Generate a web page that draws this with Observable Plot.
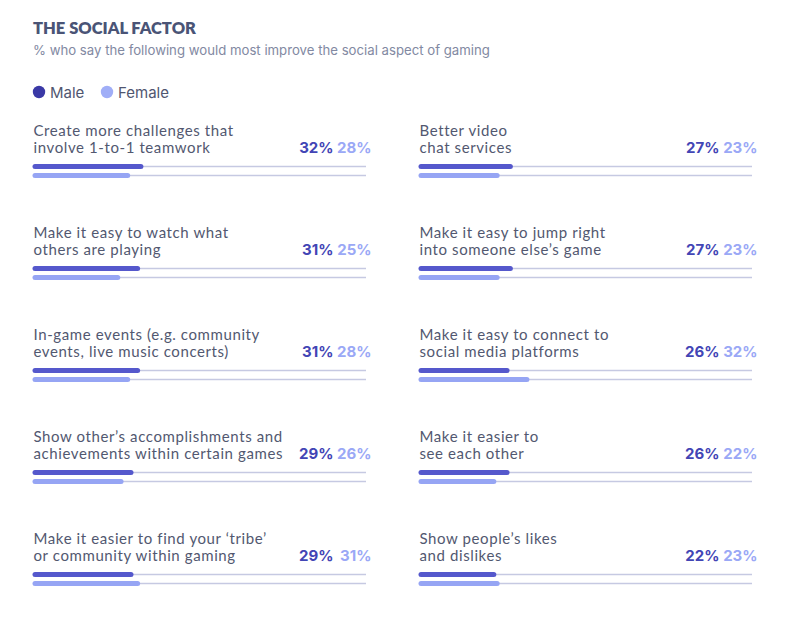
<!DOCTYPE html>
<html><head><meta charset="utf-8">
<script src="https://cdn.jsdelivr.net/npm/d3@7"></script>
<script src="https://cdn.jsdelivr.net/npm/@observablehq/plot@0.6"></script>
<style>
body{margin:0;background:#fff;font-family:Inter,sans-serif;}
svg{display:block;}
</style></head>
<body>
<div id="chart"></div>
<script>
const title = "THE SOCIAL FACTOR";
const subtitle = "% who say the following would most improve the social aspect of gaming";
const seriesNames = ["Male", "Female"];
const labels = [
  "Create more challenges that\ninvolve 1-to-1 teamwork",
  "Make it easy to watch what\nothers are playing",
  "In-game events (e.g. community\nevents, live music concerts)",
  "Show other’s accomplishments and\nachievements within certain games",
  "Make it easier to find your ‘tribe’\nor community within gaming",
  "Better video\nchat services",
  "Make it easy to jump right\ninto someone else’s game",
  "Make it easy to connect to\nsocial media platforms",
  "Make it easier to\nsee each other",
  "Show people’s likes\nand dislikes"
];
const male =   [32, 31, 31, 29, 29, 27, 27, 26, 26, 22];
const female = [28, 25, 28, 26, 31, 23, 23, 32, 22, 23];

const colors = {Male: "#5558cc", Female: "#96a5f4"};
const textColors = {Male: "#4245b5", Female: "#9aa8f6"};
const dotColors = {Male: "#3a39a6", Female: "#a0aef7"};

const panels = labels.map((label, i) => ({label, col: i < 5 ? 0 : 1, row: i % 5, male: male[i], female: female[i]}));
const bars = panels.flatMap(p => seriesNames.map(s => ({col: p.col, row: p.row, series: s, value: s === "Male" ? p.male : p.female})));

const FONT = "Inter, sans-serif";
// header
const root = d3.select("#chart");
const head = root.append("svg").attr("width", 789).attr("height", 110);
head.append("text").attr("x", 33).attr("y", 34.3).text(title)
  .attr("font-family", "Lato, sans-serif").attr("font-weight", 800).attr("font-size", 16.5).attr("fill", "#4a5476");
head.append("text").attr("x", 33).attr("y", 55).text(subtitle)
  .attr("font-family", FONT).attr("font-size", 13.2).attr("fill", "#8289a2");
const leg = head.selectAll("g.leg").data(seriesNames).join("g")
  .attr("transform", (d, i) => `translate(${[39, 107][i]},92)`);
leg.append("circle").attr("r", 6.2).attr("fill", d => dotColors[d]);
leg.append("text").attr("x", 11).attr("y", 5.5).text(d => d)
  .attr("font-family", FONT).attr("font-size", 15).attr("fill", "#505670");

const chart = Plot.plot({
  width: 789,
  height: 486,
  marginTop: 8, marginBottom: 10, marginLeft: 35, marginRight: 36,
  fx: {domain: [0, 1], paddingInner: 55 / 387, paddingOuter: 0, axis: null},
  fy: {domain: [0, 1, 2, 3, 4], paddingInner: 42 / 102, paddingOuter: 0, axis: null},
  x: {domain: [0, 100], axis: null},
  y: {type: "point", domain: seriesNames, padding: 0, insetTop: 48, insetBottom: 3, axis: null},
  style: {fontFamily: FONT, background: "transparent"},
  marks: [
    Plot.ruleY(bars, {fx: "col", fy: "row", y: "series", stroke: "#c6c9e2", strokeWidth: 1.3}),
    Plot.ruleY(bars, {fx: "col", fy: "row", y: "series", x1: 0, x2: "value",
      stroke: d => colors[d.series], strokeWidth: 5, strokeLinecap: "round"}),
    Plot.text(panels, {fx: "col", fy: "row", y: () => "Male", frameAnchor: "left", text: "label",
      textAnchor: "start", lineAnchor: "bottom", dx: -2, dy: -14, fontSize: 15, lineHeight: 17 / 15,
      fontFamily: "Lato, sans-serif", fill: "#525870", className: "lbl"}),
    Plot.text(panels, {fx: "col", fy: "row", y: () => "Male", frameAnchor: "right", text: d => d.male + "%",
      textAnchor: "end", lineAnchor: "bottom", dx: -33, dy: -14, fontSize: 15, fontWeight: 700, fill: textColors.Male}),
    Plot.text(panels, {fx: "col", fy: "row", y: () => "Male", frameAnchor: "right", text: d => d.female + "%",
      textAnchor: "end", lineAnchor: "bottom", dx: 5, dy: -14, fontSize: 15, fontWeight: 700, fill: textColors.Female})
  ]
});
d3.select(chart).selectAll("g.lbl, g[class*='lbl']").style("letter-spacing", "0.6px");
document.getElementById("chart").appendChild(chart);
</script>
</body></html>
